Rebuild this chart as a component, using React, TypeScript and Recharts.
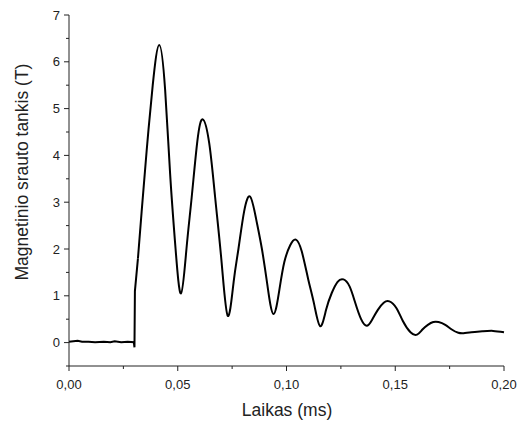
import { LineChart, Line, XAxis, YAxis } from "recharts"

// time in ms, flux density in T
const timeMs = [
  0.0, 0.002, 0.004, 0.006, 0.009, 0.012, 0.016, 0.019, 0.021, 0.024, 0.027, 0.0298,
  0.0301, 0.0303, 0.0317, 0.0334, 0.0357, 0.0385, 0.0415, 0.0442, 0.0465, 0.049,
  0.0515, 0.054, 0.0564, 0.059, 0.0615, 0.0645, 0.0672, 0.0702, 0.073, 0.0757, 0.0779,
  0.0805, 0.0833, 0.086, 0.0887, 0.0913, 0.094, 0.0967, 0.099, 0.1017, 0.1043, 0.107,
  0.11, 0.1128, 0.1155, 0.1182, 0.1208, 0.1235, 0.1262, 0.129, 0.1316, 0.1343, 0.137,
  0.1395, 0.142, 0.1447, 0.1473, 0.1505, 0.1535, 0.157, 0.16, 0.1625, 0.165, 0.1675,
  0.1699, 0.173, 0.176, 0.179, 0.1814, 0.185, 0.19, 0.195, 0.2,
]
const fluxT = [
  0.02, 0.03, 0.04, 0.02, 0.02, 0.01, 0.02, 0.01, 0.03, 0.01, 0.02, 0.01,
  -0.1, 1.1, 1.8, 2.8, 4.1, 5.5, 6.36, 5.4, 3.6, 2.0,
  1.05, 2.0, 3.1, 4.3, 4.77, 4.25, 3.1, 1.7, 0.57, 1.3, 2.0,
  2.8, 3.12, 2.65, 2.0, 1.2, 0.61, 1.12, 1.72, 2.08, 2.2, 1.95,
  1.35, 0.8, 0.35, 0.7, 1.06, 1.3, 1.35, 1.2, 0.85, 0.5, 0.36,
  0.5, 0.7, 0.85, 0.88, 0.74, 0.46, 0.22, 0.17, 0.28, 0.38, 0.44,
  0.44, 0.38, 0.28, 0.21, 0.2, 0.22, 0.24, 0.25, 0.22,
]
// the jump (pulse start) is drawn straight, the ringing after it as a smooth curve
const ringStart = 14

const xTicks = [0, 0.025, 0.05, 0.075, 0.1, 0.125, 0.15, 0.175, 0.2]
const yTicks = [-0.5, 0, 0.5, 1, 1.5, 2, 2.5, 3, 3.5, 4, 4.5, 5, 5.5, 6, 6.5, 7]

const data = timeMs.map((t, i) => ({
  t,
  pre: i <= ringStart ? fluxT[i] : null,
  ring: i >= ringStart ? fluxT[i] : null,
}))

const ink = "#222"
const font = "'Liberation Sans', Arial, sans-serif"

const isMajorX = (v: number) => Math.abs(Math.round(v / 0.05) * 0.05 - v) < 1e-9
const isMajorY = (v: number) => Number.isInteger(v)

function XTick(props: any) {
  const { x, y, payload } = props
  const major = isMajorX(payload.value)
  return (
    <g>
      <line x1={x} y1={y} x2={x} y2={y + (major ? 5 : 3)} stroke={ink} strokeWidth={1} />
      {major && (
        <text x={x} y={y + 23} textAnchor="middle" fontSize={13} fill={ink} fontFamily={font}>
          {payload.value.toFixed(2).replace(".", ",")}
        </text>
      )}
    </g>
  )
}

function YTick(props: any) {
  const { x, y, payload } = props
  const major = isMajorY(payload.value)
  return (
    <g>
      <line x1={x} y1={y} x2={x - (major ? 5 : 3)} y2={y} stroke={ink} strokeWidth={1} />
      {major && (
        <text x={x - 9} y={y + 4.5} textAnchor="end" fontSize={13} fill={ink} fontFamily={font}>
          {payload.value}
        </text>
      )}
    </g>
  )
}

function YTitle() {
  return (
    <text
      x={28}
      y={172}
      transform="rotate(-90 28 172)"
      textAnchor="middle"
      fontSize={17.5}
      fill={ink}
      fontFamily={font}
    >
      Magnetinio srauto tankis (T)
    </text>
  )
}

function XTitle() {
  return (
    <text x={287} y={416} textAnchor="middle" fontSize={17.5} fill={ink} fontFamily={font}>
      Laikas (ms)
    </text>
  )
}

export default function App() {
  return (
    <div style={{ position: "absolute", left: 0, top: 0, background: "#fff" }}>
      <LineChart
        width={524}
        height={421}
        data={data}
        margin={{ top: 15, right: 20, left: 0, bottom: 0 }}
      >
        <XAxis
          dataKey="t"
          type="number"
          domain={[0, 0.2]}
          ticks={xTicks}
          interval={0}
          height={55}
          tickSize={0}
          tickMargin={0}
          tickLine={false}
          tick={<XTick />}
          axisLine={{ stroke: ink, strokeWidth: 1 }}
          label={<XTitle />}
        />
        <YAxis
          type="number"
          domain={[-0.5, 7]}
          ticks={yTicks}
          interval={0}
          width={69}
          tickSize={0}
          tickMargin={0}
          tickLine={false}
          tick={<YTick />}
          axisLine={{ stroke: ink, strokeWidth: 1 }}
          label={<YTitle />}
        />
        <Line
          type="linear"
          dataKey="pre"
          stroke="#000"
          strokeWidth={2}
          dot={false}
          isAnimationActive={false}
        />
        <Line
          type="natural"
          dataKey="ring"
          stroke="#000"
          strokeWidth={2}
          dot={false}
          isAnimationActive={false}
        />
      </LineChart>
    </div>
  )
}
